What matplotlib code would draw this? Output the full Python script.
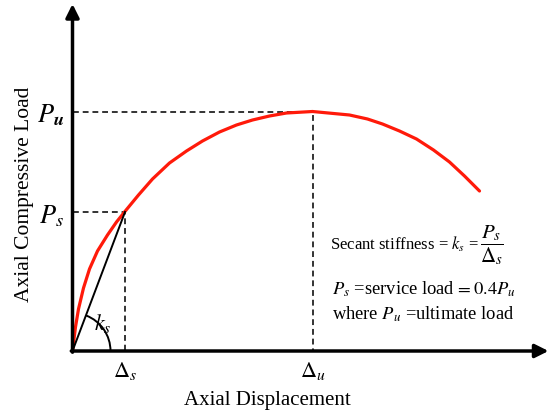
import matplotlib.pyplot as plt
from matplotlib.patches import Arc

plt.rcParams['font.family'] = ['Liberation Serif', 'DejaVu Serif']
plt.rcParams['mathtext.fontset'] = 'stix'

# Load-displacement curve (arbitrary units)
disp = [0, 1, 3, 6, 11, 17, 25, 35, 44, 52, 66, 80, 97, 114, 130, 147, 164, 180,
        197, 214, 240, 277, 295, 310, 327, 344, 361, 377, 392, 407]
load = [0, 8, 24, 42, 63, 82, 100, 116, 129, 139, 156, 172, 188, 200, 210, 219, 226, 231,
        235, 238, 239.5, 236, 232, 227, 220, 212, 201, 189, 175, 160]

delta_s, p_s = 52.5, 139    # service point
delta_u, p_u = 240, 239.5   # ultimate point
x_max, y_max = 476, 347

fig = plt.figure(figsize=(5.51, 4.14), dpi=100)
ax = fig.add_axes([72.5 / 551, 62 / 414, x_max / 551, y_max / 414])
ax.set_xlim(0, x_max)
ax.set_ylim(0, y_max)
for s in ax.spines.values():
    s.set_visible(False)

# Axes with arrow heads
arrow = dict(arrowstyle='-|>', lw=2.5, color='black', mutation_scale=20,
             shrinkA=0, shrinkB=0)
ax.annotate('', xy=(x_max, 0), xytext=(-1.2, 0), arrowprops=arrow, annotation_clip=False)
ax.annotate('', xy=(0, y_max), xytext=(0, -1.2), arrowprops=arrow, annotation_clip=False)

# Dashed guide lines
dash = dict(color='#333333', ls=(0, (3, 2)), lw=1.4)
ax.plot([0, delta_u, delta_u], [p_u, p_u, 0], **dash)
ax.plot([0, delta_s, delta_s], [p_s, p_s, 0], **dash)

# Curve and secant
ax.plot(disp, load, color='#ff1a0a', lw=2.3, solid_capstyle='round',
        solid_joinstyle='round')
ax.plot([0, delta_s], [0, p_s], color='black', lw=1.4)
ax.add_patch(Arc((0, 0), 76, 76, theta1=0, theta2=69, color='black', lw=1.4))
ax.text(21, 22, '$k_s$', fontsize=16)

# Tick labels
ax.set_xticks([delta_s, delta_u])
ax.set_xticklabels([r'$\Delta_s$', r'$\Delta_u$'], fontsize=16)
ax.set_yticks([p_s, p_u])
ax.set_yticklabels(['$P_s$', r'$P_{\boldsymbol{u}}$'], fontsize=19)
ax.tick_params(length=0, pad=6)

ax.set_xlabel('Axial Displacement', fontsize=15)
ax.set_ylabel('Axial Compressive Load', fontsize=15.5)
ax.xaxis.set_label_coords(0.41, -0.112)
ax.yaxis.set_label_coords(-0.08, 0.455)

# Definitions
ax.text(257, 108, r'Secant stiffness = $k_s$ =', fontsize=12, va='center')
ax.text(408, 107, r'$\dfrac{P_s}{\Delta_s}$', fontsize=15, va='center')
ax.text(259, 63, r'$P_s$ =service load$\,=0.4P_u$', fontsize=13.3, va='center')
ax.text(259, 38, r'where $P_u$ =ultimate load', fontsize=13.3, va='center')

plt.savefig('out.png', dpi=100)
